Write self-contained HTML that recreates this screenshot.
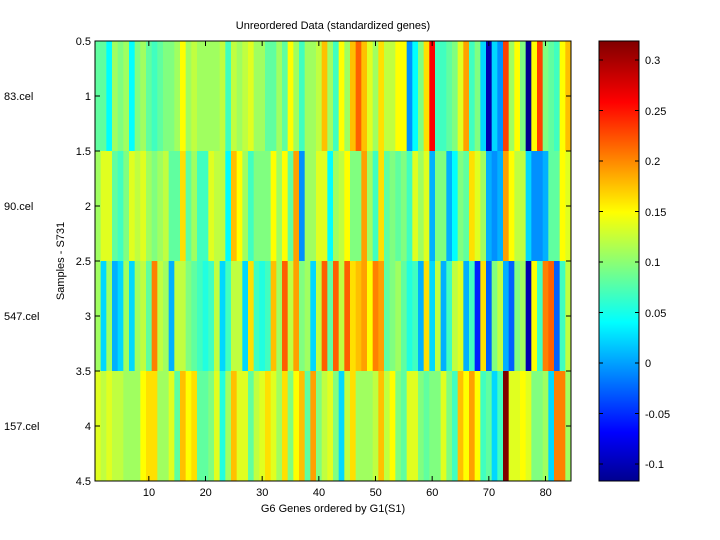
<!DOCTYPE html>
<html><head><meta charset="utf-8"><style>
html,body{margin:0;padding:0;background:#fff;}
svg{display:block;font-family:"Liberation Sans",sans-serif;font-size:11px;}
</style></head><body>
<svg id="s" width="720" height="540" xmlns="http://www.w3.org/2000/svg">
<defs><linearGradient id="jet" x1="0" y1="1" x2="0" y2="0">
<stop offset="0" stop-color="#00008f"/><stop offset="0.111" stop-color="#0000ff"/><stop offset="0.361" stop-color="#00ffff"/><stop offset="0.611" stop-color="#ffff00"/><stop offset="0.861" stop-color="#ff0000"/><stop offset="1" stop-color="#800000"/>
</linearGradient></defs>
<rect width="720" height="540" fill="#fff"/>
<g id="cells"></g>
<rect x="95" y="41" width="476" height="440" fill="none" stroke="#000" stroke-width="1"/>
<g stroke="#000" stroke-width="1" id="ticks"></g>
<text x="333" y="29" text-anchor="middle">Unreordered Data (standardized genes)</text>
<g text-anchor="end">
<text x="91" y="45">0.5</text><text x="91" y="100">1</text><text x="91" y="155">1.5</text><text x="91" y="210">2</text><text x="91" y="265">2.5</text><text x="91" y="320">3</text><text x="91" y="375">3.5</text><text x="91" y="430">4</text><text x="91" y="485">4.5</text>
</g>
<text x="4" y="100">83.cel</text><text x="4" y="210">90.cel</text><text x="4" y="320">547.cel</text><text x="4" y="430">157.cel</text>
<text transform="translate(64,261) rotate(-90)" text-anchor="middle">Samples - S731</text>
<g text-anchor="middle">
<text x="149" y="496">10</text><text x="205.7" y="496">20</text><text x="262.3" y="496">30</text><text x="319" y="496">40</text><text x="375.7" y="496">50</text><text x="432.3" y="496">60</text><text x="489" y="496">70</text><text x="545.7" y="496">80</text>
</g>
<text x="333" y="512" text-anchor="middle">G6 Genes ordered by G1(S1)</text>
<rect x="599" y="41" width="40" height="440" fill="url(#jet)" stroke="#000"/>
<g id="cbt" stroke="#000"></g>
<g>
<text x="645" y="64">0.3</text><text x="645" y="115">0.25</text><text x="645" y="165">0.2</text><text x="645" y="216">0.15</text><text x="645" y="266">0.1</text><text x="645" y="317">0.05</text><text x="645" y="367">0</text><text x="645" y="418">-0.05</text><text x="645" y="468">-0.1</text>
</g>
</svg>
<script>
var P={a:"#00008f",b:"#0000b0",c:"#0020ff",d:"#0060ff",e:"#0090ff",f:"#00b0ff",g:"#00d8ff",h:"#00ffff",i:"#20ffe0",j:"#40ffc0",k:"#60ffa0",l:"#80ff80",m:"#a0ff60",n:"#c0ff40",o:"#e0ff20",p:"#ffff00",q:"#ffe000",r:"#ffc000",s:"#ffa000",t:"#ff8000",u:"#ff6000",v:"#ff4000",w:"#ff0000",x:"#800000"};
var R=[
"kkhmlmhlmkjkllmpmnmmm"+"mnjnmnommkkmkpmjmmnrm"+"jpmrurom qnnppehlqwjjk".replace(/ /g,"")+"losjlgbgevmplapvlkjpr",
"mookjlonomlmnkkqkmjjo"+"nnhrpmjlllpmpksemmooh"+"mnpllsmjqklkljomofllf"+"hlkqomfefspnngeefkkpo",
"mgmfgmgmnktnmfnnlkjij"+"ngjnngqjijrmunslmgnuk"+"unuqrsptsklmkijfqgnfj"+"nofjcqdlnfdlmbpjtudjn",
"onornmmmpqqmmokrpqkkl".replace("onornmmm","onon"+"nmmm")+"",
""];
R[3]="ononnmmmpqqmmokrpqkkl"+"oimrooknoqomqlprkslno"+"lgnqmmmnrnplkoolkllol"+"jrpspjkgjxoopollmgttm";
var g=document.getElementById("cells"),h="",w=476/84;
for(var r=0;r<4;r++){for(var c=0;c<84;c++){var ch=R[r][c]||"l";h+='<rect x="'+(95+c*w).toFixed(2)+'" y="'+(41+r*110)+'" width="'+(w+0.4).toFixed(2)+'" height="110" fill="'+P[ch]+'"/>';}}
g.innerHTML=h;
var t="";
for(var i=0;i<9;i++){var y=41+i*55;t+='<line x1="95" y1="'+y+'" x2="100" y2="'+y+'"/><line x1="566" y1="'+y+'" x2="571" y2="'+y+'"/>';}
for(var i=1;i<=8;i++){var x=95+(i*10-0.5)*w;t+='<line x1="'+x+'" y1="41" x2="'+x+'" y2="46"/><line x1="'+x+'" y1="476" x2="'+x+'" y2="481"/>';}
document.getElementById("ticks").innerHTML=t;
var u="";
for(var i=0;i<9;i++){var y=60+i*50.5;u+='<line x1="599" y1="'+y+'" x2="603" y2="'+y+'"/><line x1="635" y1="'+y+'" x2="639" y2="'+y+'"/>';}
document.getElementById("cbt").innerHTML=u;
</script>
</body></html>
